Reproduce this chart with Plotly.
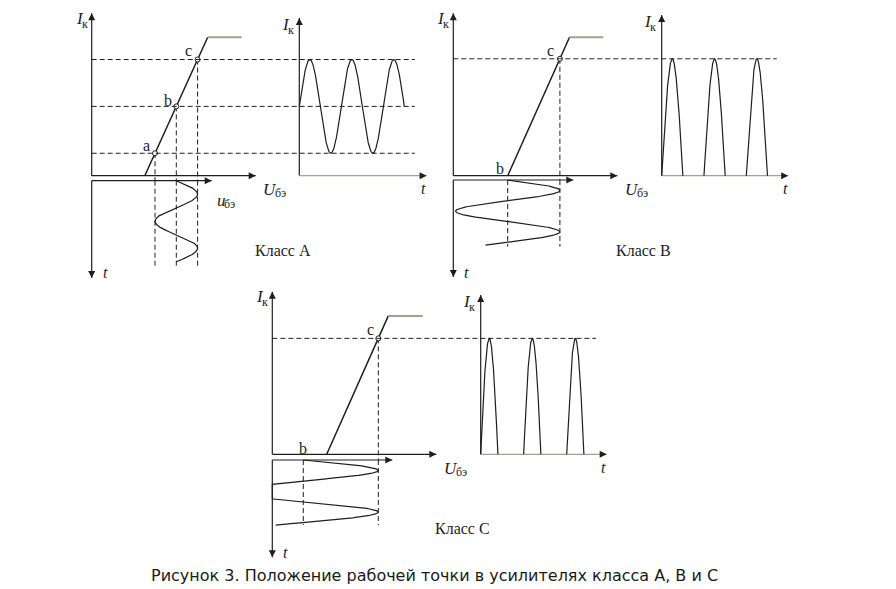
import numpy as np
import plotly.graph_objects as go

# ---------------- data (diagram units) ----------------
class_names = ["Класс A", "Класс B", "Класс C"]
caption = "Рисунок 3. Положение рабочей точки в усилителях класса A, B и C"

# transfer characteristic I_k(U_be): cutoff voltage, saturation voltage, plateau end, saturation current
U_cut = [5.31, 5.44, 5.44]
U_sat = [11.60, 11.62, 11.60]
U_end = [15.00, 15.00, 15.04]
I_sat = [13.84, 13.84, 13.84]

# input signal u_be(t) = bias + amp * sin(2*pi*t)
U_bias = [8.46, 5.44, 3.10]
U_amp = [2.13, 5.22, 7.50]
in_cycles = [1.50, 1.57, 1.56]
out_cycles = [2.5, 2.5, 2.5]
out_phase = [0.0, 0.0, 0.0505]

circled = [["a", "b", "c"], ["c"], ["c"]]
labelled = [["a", "b", "c"], ["b", "c"], ["b", "c"]]
h_dashed = [["a", "b", "c"], ["c"], ["c"]]
v_dashed = [["a", "b", "c"], ["b", "c"], ["b", "c"]]

# ---------------- geometry (pixels) ----------------
W, H = 896, 589
S = 10.0  # px per unit of U_be and I_k
GEO = [
    dict(T=(91.7, 175.7), In=(91.7, 180.7), Out=(299.3, 175.7), s_in=54.0, s_out=42.0,
         in_len=1.80, out_tlen=3.03, out_ilen=15.77, h_end=2.75, v_end=1.617, label=(282.5, 250)),
    dict(T=(453.3, 175.7), In=(453.3, 180.0), Out=(661.7, 175.7), s_in=41.5, s_out=42.3,
         in_len=2.34, out_tlen=2.99, out_ilen=16.07, h_end=2.72, v_end=1.607, label=(643, 250)),
    dict(T=(272.3, 454.3), In=(272.3, 460.0), Out=(480.7, 454.3), s_in=41.7, s_out=43.0,
         in_len=2.33, out_tlen=2.93, out_ilen=15.93, h_end=2.68, v_end=1.56, label=(462.5, 528)),
]
T_ULEN, T_ILEN, IN_ULEN = 16.4, 16.25, 12.0
LBL_OFF = {(0, 'a'): (-9, -7.6), (0, 'b'): (-8, -6.3), (0, 'c'): (-8.7, -8.6),
           (1, 'b'): (-7.4, -7.7), (1, 'c'): (-9, -8.6),
           (2, 'b'): (0, -6.3), (2, 'c'): (-7.6, -9)}

INK = "#1e1e1e"
GREEN = "#9aa58c"
SERIF = "Liberation Serif"

fig = go.Figure()
annotations = []
layout_axes = {}


def ref(letter, n):
    return letter if n == 1 else f"{letter}{n}"


def axkey(letter, n):
    return f"{letter}axis" if n == 1 else f"{letter}axis{n}"


def add_axis(letter, n, rng):
    d = dict(visible=False, domain=[0, 1], range=rng, autorange=False, fixedrange=True,
             showgrid=False, zeroline=False, anchor="y" if letter == "x" else "x")
    if n > 1:
        d["overlaying"] = letter
    layout_axes[axkey(letter, n)] = d


def line(x, y, xa, ya, color=INK, width=1.2, dash=None):
    fig.add_trace(go.Scatter(x=x, y=y, xaxis=xa, yaxis=ya, mode="lines",
                             line=dict(color=color, width=width, dash=dash),
                             hoverinfo="skip", showlegend=False))


def axis_arrow(x1, y1, xa, ya, symbol, color=INK, x0=0, y0=0):
    line([x0, x1], [y0, y1], xa, ya, color=color, width=1.2)
    fig.add_trace(go.Scatter(x=[x1], y=[y1], xaxis=xa, yaxis=ya, mode="markers",
                             marker=dict(symbol=symbol, size=7, color=INK, line=dict(width=0)),
                             hoverinfo="skip", showlegend=False))


def label(text, x, y, xa, ya, size=16, xanchor="center", yanchor="middle", dx=0, dy=0,
          family=SERIF, italic=False, pad=1):
    annotations.append(dict(x=x, y=y, xref=xa, yref=ya, text=text, showarrow=False,
                            font=dict(family=family, size=size, color=INK,
                                      style="italic" if italic else "normal"),
                            xanchor=xanchor, yanchor=yanchor, xshift=dx, yshift=-dy,
                            borderpad=pad))


def sub_label(main, sub, x, y, xa, ya, dx, dy_main, dy_sub, size=17, sub_size=12):
    # main italic symbol to the left of the junction, upright subscript to the right
    label(main, x, y, xa, ya, size=size, xanchor="right", dx=dx + 2, dy=dy_main, italic=True, pad=0)
    label(sub, x, y, xa, ya, size=sub_size, xanchor="left", dx=dx - 2, dy=dy_sub, pad=0)


DASH = "5px,3px"

for k, g in enumerate(GEO):
    nU, nT = 2 * k + 1, 2 * k + 2   # x axes: U_be, t(out)
    nI, nt = 2 * k + 1, 2 * k + 2   # y axes: I_k, t(in)
    oxT, oyT = g["T"]
    oxI, oyI = g["In"]
    oxO, oyO = g["Out"]
    add_axis("x", nU, [-oxT / S, (W - oxT) / S])
    add_axis("x", nT, [-oxO / g["s_out"], (W - oxO) / g["s_out"]])
    add_axis("y", nI, [(oyT - H) / S, oyT / S])
    add_axis("y", nt, [(H - oyI) / g["s_in"], -oyI / g["s_in"]])
    xU, xT, yI, yT = ref("x", nU), ref("x", nT), ref("y", nI), ref("y", nt)

    kx = [U_cut[k], U_sat[k], U_end[k]]
    ky = [0.0, I_sat[k], I_sat[k]]

    def transfer(u):
        return np.interp(u, kx, ky, left=0.0, right=I_sat[k])

    U_pts = {"a": U_bias[k] - U_amp[k], "b": U_bias[k], "c": U_bias[k] + U_amp[k]}
    I_pts = {p: float(transfer(u)) for p, u in U_pts.items()}

    # dashed projection lines
    t_left = (oxT - oxO) / g["s_out"]
    for p in h_dashed[k]:
        line([t_left, g["h_end"]], [I_pts[p], I_pts[p]], xT, yI, width=1, dash=DASH)
    gap = (oyI - oyT) / S
    for p in v_dashed[k]:
        if I_pts[p] > 0:
            line([U_pts[p], U_pts[p]], [I_pts[p], -gap], xU, yI, width=1, dash=DASH)
        line([U_pts[p], U_pts[p]], [0, g["v_end"]], xU, yT, width=1, dash=DASH)

    # axes with arrow heads
    axis_arrow(0, T_ILEN, xU, yI, "arrow-up")
    axis_arrow(T_ULEN, 0, xU, yI, "arrow-right")
    axis_arrow(IN_ULEN, 0, xU, yT, "arrow-right")
    axis_arrow(0, g["in_len"], xU, yT, "arrow-down")
    axis_arrow(0, g["out_ilen"], xT, yI, "arrow-up")
    axis_arrow(g["out_tlen"], 0, xT, yI, "arrow-right", color=GREEN)

    # transfer characteristic
    line(kx[:2], ky[:2], xU, yI, width=1.5)
    line(kx[1:], ky[1:], xU, yI, color=GREEN, width=2)

    # input signal
    tin = np.linspace(0, in_cycles[k], 600)
    uin = np.maximum(U_bias[k] + U_amp[k] * np.sin(2 * np.pi * tin), 0.0)
    line(uin, tin, xU, yT, width=1.2)

    # output current
    tout = np.linspace(0, out_cycles[k], 1500)
    iout = transfer(U_bias[k] + U_amp[k] * np.sin(2 * np.pi * (tout + out_phase[k])))
    z = iout <= 1e-9
    hide = z.copy()
    hide[1:-1] = z[1:-1] & z[:-2] & z[2:]
    hide[0] = z[0] & z[1]
    hide[-1] = z[-1] & z[-2]
    iout_plot = np.where(hide, np.nan, iout)
    line(tout, iout_plot, xT, yI, width=1.2)

    # operating points
    cp = circled[k]
    fig.add_trace(go.Scatter(x=[U_pts[p] for p in cp], y=[I_pts[p] for p in cp], xaxis=xU, yaxis=yI,
                             mode="markers", marker=dict(size=5, color="white",
                                                         line=dict(color=INK, width=1)),
                             hoverinfo="skip", showlegend=False))
    for p in labelled[k]:
        dx, dy = LBL_OFF[(k, p)]
        label(p, U_pts[p], I_pts[p], xU, yI, size=16, dx=dx, dy=dy)

    # axis labels
    sub_label("I", "к", 0, T_ILEN, xU, yI, dx=-9, dy_main=5, dy_sub=10.5)
    sub_label("I", "к", 0, g["out_ilen"], xT, yI, dx=-10.5, dy_main=6.5, dy_sub=11.5)
    sub_label("U", "бэ", T_ULEN, 0, xU, yI, dx=20.5, dy_main=13.7, dy_sub=17.3)
    label("t", 0, g["in_len"], xU, yT, size=16, xanchor="left", dx=9, dy=-5, italic=True)
    label("t", g["out_tlen"], 0, xT, yI, size=16, dx=-3, dy=13, italic=True)
    if k == 0:
        sub_label("u", "бэ", IN_ULEN, 0, xU, yT, dx=13.3, dy_main=19.5, dy_sub=23)

    lx, ly = g["label"]
    annotations.append(dict(x=lx / W, y=1 - ly / H, xref="paper", yref="paper", text=class_names[k],
                            showarrow=False, font=dict(family=SERIF, size=16, color=INK),
                            xanchor="center", yanchor="middle"))

annotations.append(dict(x=434 / W, y=1 - 575 / H, xref="paper", yref="paper", text=caption,
                        showarrow=False, font=dict(family="DejaVu Sans", size=16, color="#1a1a1a"),
                        xanchor="center", yanchor="middle"))

fig.update_layout(width=W, height=H, autosize=False, margin=dict(l=0, r=0, t=0, b=0, pad=0),
                  paper_bgcolor="white", plot_bgcolor="white", showlegend=False,
                  annotations=annotations, **layout_axes)

fig.write_html("out.html", config={"displayModeBar": False, "staticPlot": True})
